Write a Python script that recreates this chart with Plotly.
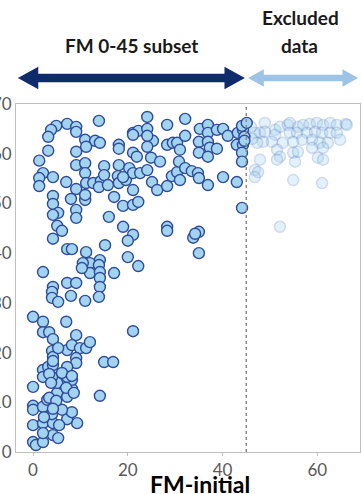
import plotly.graph_objects as go

# FM-initial vs outcome score, points inside the FM 0-45 subset
fm_initial_subset = [
    13.9, 4.9, 7.2, 9.1, 3.8, 3.2, 9.1, 11.0, 13.1, 14.1, 11.2, 18.1, 18.1, 3.2, 9.1,
    21.1, 21.1, 1.3, 9.1, 11.0, 15.0, 18.1, 20.3, 2.1, 4.2, 1.3, 1.3, 7.0, 11.0, 11.2,
    12.7, 14.3, 15.0, 13.9, 15.8, 17.9, 18.1, 19.6, 21.1, 9.1, 4.2, 8.0, 11.0, 11.0, 17.1,
    4.2, 9.1, 19.0, 21.1, 16.0, 5.3, 22.2, 24.1, 24.1, 28.3, 25.3, 24.1, 21.9, 24.9, 26.8,
    28.3, 29.5, 22.6, 24.1, 25.1, 26.2, 28.3, 29.3, 30.4, 22.2, 21.1, 19.0, 21.1, 20.0, 28.3,
    28.3, 7.2, 8.2, 11.2, 15.2, 14.1, 12.0, 10.5, 12.0, 10.3, 13.9, 14.1, 14.1, 17.1, 20.0,
    22.2, 2.1, 4.2, 7.2, 9.1, 19.0, 9.1, 4.2, 5.1, 6.1, 4.2, 32.1, 21.1, 24.1, 30.4,
    32.1, 35.2, 36.9, 36.9, 38.8, 40.1, 41.1, 43.2, 44.3, 35.0, 36.9, 37.3, 38.8, 35.0, 36.9,
    43.0, 44.3, 44.1, 44.1, 31.0, 30.8, 32.1, 31.0, 33.5, 34.8, 35.0, 36.9, 40.1, 43.0, 44.1,
    44.1, 45.1, 44.6, 44.6, 33.8, 35.0, 35.0, 34.2, 21.1, 14.1, 13.9, 4.0, 4.0, 5.3, 8.0,
    11.0, 0.0, 2.1, 7.0, 2.1, 3.4, 9.1, 4.2, 4.0, 4.2, 7.2, 8.2, 9.9, 11.2, 12.0,
    15.0, 16.9, 9.1, 9.1, 7.2, 2.1, 2.1, 3.2, 4.2, 0.0, 14.1, 0.0, 0.0, 2.1, 0.0,
    0.0, 0.6, 2.1, 4.2, 5.3, 2.1, 4.2, 9.3, 7.2, 8.2, 6.1, 4.0, 3.0, 5.1, 7.2,
    8.2, 8.2, 6.1, 5.1, 4.0, 7.2, 6.1, 8.2, 5.3, 4.2, 3.4, 3.8, 7.0, 8.6, 3.4,
    4.9, 4.2, 2.3, 5.5, 2.1,
]
fm_outcome_subset = [
    66.6, 65.6, 66.0, 65.4, 64.8, 63.4, 64.4, 62.8, 62.6, 62.2, 61.4, 61.8, 61.0, 60.6, 60.4,
    64.2, 60.2, 58.6, 57.7, 58.1, 57.5, 57.7, 57.1, 56.1, 55.3, 55.1, 53.5, 54.3, 56.1, 54.1,
    54.1, 54.5, 55.7, 53.3, 53.7, 55.5, 54.1, 54.7, 56.1, 52.9, 51.5, 50.9, 50.7, 51.7, 51.3,
    49.9, 48.7, 49.5, 49.7, 47.3, 48.1, 64.6, 65.0, 67.4, 65.8, 62.6, 61.4, 59.4, 59.2, 58.4,
    61.8, 62.2, 56.1, 56.7, 54.3, 52.7, 53.5, 55.5, 56.3, 50.3, 52.7, 45.3, 43.7, 42.5, 45.3,
    44.5, 40.8, 40.8, 40.2, 41.6, 38.6, 38.0, 38.0, 36.0, 37.0, 37.6, 36.2, 35.0, 36.0, 39.2,
    37.4, 36.2, 33.2, 34.0, 34.0, 55.3, 47.1, 47.7, 45.5, 44.5, 42.9, 67.0, 63.8, 63.6, 62.2,
    63.6, 65.0, 65.8, 64.2, 64.8, 65.0, 63.6, 64.2, 64.8, 62.4, 62.4, 61.2, 61.0, 60.2, 59.4,
    61.8, 61.8, 60.2, 58.4, 60.8, 58.4, 57.1, 54.7, 56.5, 56.1, 55.1, 53.7, 55.3, 54.3, 49.1,
    65.6, 66.2, 63.4, 62.6, 43.1, 44.3, 40.0, 43.9, 24.3, 33.2, 31.2, 32.2, 31.0, 30.2, 31.4,
    30.4, 27.2, 26.2, 26.2, 24.1, 24.1, 23.5, 22.7, 20.3, 19.1, 20.5, 21.5, 20.9, 20.9, 22.1,
    18.1, 18.1, 18.9, 17.9, 17.1, 16.5, 15.1, 17.1, 17.5, 13.1, 11.3, 9.3, 8.5, 9.1, 5.4,
    2.0, 1.4, 2.0, 3.4, 2.8, 5.8, 5.8, 5.8, 6.6, 8.0, 8.5, 7.6, 10.5, 11.9, 11.1,
    12.7, 14.5, 13.7, 13.9, 15.1, 15.1, 15.9, 15.3, 20.9, 18.3, 15.7, 13.9, 12.9, 11.9, 10.9,
    10.3, 8.7, 7.0, 5.4, 3.8,
]

# Points above FM-initial 45, left out of the subset
fm_initial_excluded = [
    48.9, 47.9, 46.8, 48.9, 51.1, 51.1, 52.1, 53.8, 54.2, 55.9, 57.0, 58.4, 59.9, 61.2, 62.7,
    64.1, 66.0, 57.8, 59.5, 61.0, 62.7, 64.1, 55.7, 56.8, 58.9, 54.9, 52.7, 50.4, 48.5, 47.3,
    60.5, 62.2, 58.9, 61.2, 64.8, 51.5, 54.9, 55.9, 52.1, 47.9, 55.3, 60.1, 61.2, 46.8, 47.5,
    46.8, 54.9, 61.0, 52.1, 54.2, 51.5, 66.2, 46.2, 46.0,
]
fm_outcome_excluded = [
    66.2, 64.2, 64.2, 64.4, 64.8, 63.8, 65.4, 65.8, 64.2, 65.4, 65.8, 66.0, 66.2, 65.8, 66.2,
    65.8, 66.0, 64.2, 64.4, 64.2, 64.2, 64.2, 64.2, 62.8, 62.8, 62.4, 62.2, 62.4, 62.4, 62.2,
    62.2, 62.2, 61.2, 61.2, 62.8, 60.8, 60.2, 60.4, 59.4, 58.8, 58.4, 59.2, 58.8, 56.7, 56.3,
    55.3, 54.7, 54.1, 45.3, 66.2, 58.8, 65.8, 63.0, 65.4,
]

x_ticks = [0, 20, 40, 60]
y_ticks = [0, 10, 20, 30, 40, 50, 60, 70]
x_range = [-3.6, 69.0]
y_range = [0, 70]
cutoff = 45

FONT = "Lato"
fill_blue = "#a2d3ef"
edge_blue = "#2f4b9b"

fig = go.Figure()

fig.add_trace(go.Scatter(
    x=fm_initial_excluded, y=fm_outcome_excluded, mode="markers",
    marker=dict(size=11, color=fill_blue, opacity=0.3,
                line=dict(color="#5f86c4", width=1.5)),
    hoverinfo="skip", showlegend=False,
))
fig.add_trace(go.Scatter(
    x=fm_initial_subset, y=fm_outcome_subset, mode="markers",
    marker=dict(size=11, color=fill_blue,
                line=dict(color=edge_blue, width=1.4)),
    showlegend=False,
))

# dotted cut-off line at FM-initial = 45
fig.add_shape(type="line", xref="x", yref="y", x0=cutoff, x1=cutoff,
              y0=y_range[0], y1=y_range[1],
              line=dict(color="#8a8a8a", width=1.5, dash="dot"))


def double_arrow(x0, x1, yc, head_len, head_half, shaft_half, color):
    """Double-headed arrow as a filled path: x in data units, y in paper units."""
    path = (
        f"M {x0},{yc} "
        f"L {x0 + head_len},{yc + head_half} L {x0 + head_len},{yc + shaft_half} "
        f"L {x1 - head_len},{yc + shaft_half} L {x1 - head_len},{yc + head_half} "
        f"L {x1},{yc} "
        f"L {x1 - head_len},{yc - head_half} L {x1 - head_len},{yc - shaft_half} "
        f"L {x0 + head_len},{yc - shaft_half} L {x0 + head_len},{yc - head_half} Z"
    )
    fig.add_shape(type="path", xref="x", yref="paper", path=path,
                  fillcolor=color, line=dict(width=0), layer="above")


arrow_y = 1.0747
double_arrow(-3.2, 44.7, arrow_y, 4.3, 0.032, 0.012, "#0f2b6b")
double_arrow(45.4, 68.6, arrow_y, 3.3, 0.025, 0.009, "#9dc3e6")

head_font = dict(family=FONT, size=19, color="#1a1a1a")
fig.add_annotation(x=20.7, y=1.167, xref="x", yref="paper", text="<b>FM 0-45 subset</b>",
                   showarrow=False, font=head_font, xanchor="center", yanchor="middle")
fig.add_annotation(x=56.5, y=1.25, xref="x", yref="paper", text="<b>Excluded</b>",
                   showarrow=False, font=head_font, xanchor="center", yanchor="middle")
fig.add_annotation(x=56.3, y=1.167, xref="x", yref="paper", text="<b>data</b>",
                   showarrow=False, font=head_font, xanchor="center", yanchor="middle")

fig.add_annotation(x=0.535, y=-0.047, xref="paper", yref="paper", text="<b>FM-initial</b>",
                   showarrow=False, font=dict(family=FONT, size=23, color="#000000"),
                   xanchor="center", yanchor="top")

axis_common = dict(
    showline=True, linecolor="#bfbfbf", linewidth=1, mirror=True,
    showgrid=False, zeroline=False, automargin=False,
    tickfont=dict(family=FONT, size=17, color="#595959"),
)

fig.update_layout(
    width=362, height=494,
    margin=dict(l=16, r=2, t=104, b=42),
    paper_bgcolor="white", plot_bgcolor="white",
    xaxis=dict(range=x_range, tickvals=x_ticks, ticks="outside", ticklen=3,
               tickcolor="#bfbfbf", **axis_common),
    yaxis=dict(range=y_range, tickvals=y_ticks, ticks="", **axis_common),
)

fig.write_html("out.html")
